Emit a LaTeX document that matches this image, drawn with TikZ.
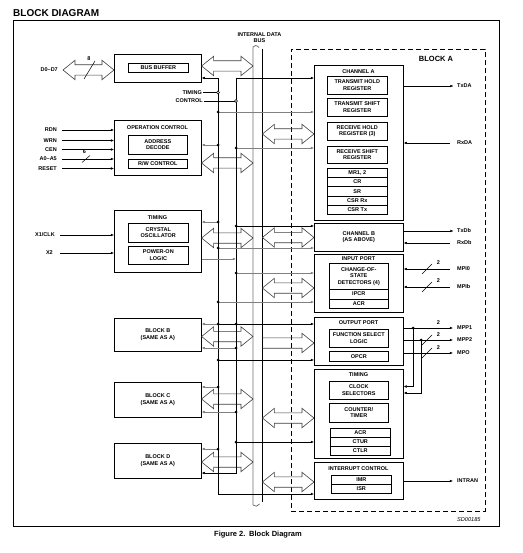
\documentclass[tikz,border=0pt]{standalone}
\usepackage{fontspec}
\setmainfont{Liberation Sans}
\usetikzlibrary{calc,arrows.meta}

\newcommand\fs{\fontsize{5.5}{6.4}\selectfont\bfseries}

\tikzset{
  lbl/.style={font=\fs, inner sep=0pt, align=center},
  box/.style={draw, line width=0.6pt, inner sep=0pt, anchor=north west},
  ibox/.style={box, font=\fs, align=center},
  conn/.style={line width=0.5pt},
  gconn/.style={line width=0.5pt, draw=black!50},
  tip/.style={-{Latex[length=3.2pt,width=2.6pt]}},
  tipboth/.style={{Latex[length=3.2pt,width=2.6pt]}-{Latex[length=3.2pt,width=2.6pt]}},
  hollow/.style={draw=black!75, line width=0.6pt, line join=miter},
}

% hollow double arrow: start, end, y (image px)
\newcommand\dblarrow[3]{%
  \draw[hollow] let \p1=#1, \p2=#2, \p3=(0,#3) in
  (\x1,\y3) -- (\x1+12pt,\y3+9.7pt) -- (\x1+12pt,\y3+5.2pt) -- (\x2-12pt,\y3+5.2pt)
  -- (\x2-12pt,\y3+9.7pt) -- (\x2,\y3) -- (\x2-12pt,\y3-9.7pt) -- (\x2-12pt,\y3-5.2pt)
  -- (\x1+12pt,\y3-5.2pt) -- (\x1+12pt,\y3-9.7pt) -- cycle;}
% hollow single arrow
\newcommand\sglarrow[3]{%
  \draw[hollow] let \p1=#1, \p2=#2, \p3=(0,#3) in
  (\x1,\y3+5.2pt) -- (\x2-12pt,\y3+5.2pt) -- (\x2-12pt,\y3+9.7pt) -- (\x2,\y3)
  -- (\x2-12pt,\y3-9.7pt) -- (\x2-12pt,\y3-5.2pt) -- (\x1,\y3-5.2pt);}

\begin{document}
\begin{tikzpicture}[x=1pt,y=-1pt]
\useasboundingbox (0,0) rectangle (522,553);
\fill[white] (0,0) rectangle (522,553);

% title, frame, caption
\node[anchor=base west, inner sep=0, font=\fontsize{10}{12}\selectfont\bfseries] (title) at (13,17) {BLOCK DIAGRAM};
\draw[line width=0.9pt] (13,20) rectangle (499,526);
\node[inner sep=0, font=\fontsize{7.5}{9}\selectfont\bfseries] (caption) at (258,535) {Figure 2.\enspace Block Diagram};
\node[inner sep=0, anchor=west, font=\fontsize{5.6}{6}\selectfont\itshape] (sd) at (457,520) {SD00185};

% internal data bus
\node[lbl] (busL) at (259.5,37.5) {INTERNAL DATA\\BUS};
\node[inner sep=0, minimum width=9pt, minimum height=458pt, anchor=north west] (bus) at (253,47) {};
\draw[black!55, line width=0.8pt] (253,505) -- (253,47) .. controls (254,45) and (257,45) .. (259,47.5);
\draw[line width=0.8pt] (262,49.5) -- (262,502);
\draw[black!55, line width=0.8pt] (253,505) .. controls (255,507) and (258,506.5) .. (259.5,504);

% ---------- left column ----------
\node[box, minimum width=87pt, minimum height=28pt] (busbuf) at (114,54) {};
\node[ibox, minimum width=60pt, minimum height=9pt] (bb) at (128,63) {BUS BUFFER};

\node[box, minimum width=87pt, minimum height=55pt] (opc) at (114,120) {};
\node[lbl] (opct) at (157.5,128) {OPERATION CONTROL};
\node[ibox, minimum width=59pt, minimum height=19pt] (addr) at (128,135) {ADDRESS\\DECODE};
\node[ibox, minimum width=59pt, minimum height=9pt] (rw) at (128,159) {R/W CONTROL};

\node[box, minimum width=87pt, minimum height=62pt] (tim) at (114,210) {};
\node[lbl] (timt) at (157.5,218) {TIMING};
\node[ibox, minimum width=60pt, minimum height=19pt] (xtal) at (128,223) {CRYSTAL\\OSCILLATOR};
\node[ibox, minimum width=60pt, minimum height=18pt] (pwr) at (128,246) {POWER-ON\\LOGIC};

\node[ibox, minimum width=87pt, minimum height=33pt] (blkB) at (114,318) {BLOCK B\\(SAME AS A)};
\node[ibox, minimum width=87pt, minimum height=35pt] (blkC) at (114,382) {BLOCK C\\(SAME AS A)};
\node[ibox, minimum width=87pt, minimum height=35pt] (blkD) at (114,443) {BLOCK D\\(SAME AS A)};

% ---------- block A ----------
\node[box, dash pattern=on 5pt off 3pt, minimum width=194pt, minimum height=462pt] (blkA) at (291,49) {};
\node[inner sep=0, font=\fontsize{7.5}{9}\selectfont\bfseries] (blkAt) at (436,59) {BLOCK A};

\node[box, minimum width=89pt, minimum height=155pt] (chA) at (314,65) {};
\node[lbl] (chAt) at (358.5,72) {CHANNEL A};
\node[ibox, minimum width=60pt, minimum height=18pt] (thr) at (327,76) {TRANSMIT HOLD\\REGISTER};
\node[ibox, minimum width=60pt, minimum height=18pt] (tsr) at (327,98) {TRANSMIT SHIFT\\REGISTER};
\node[ibox, minimum width=60pt, minimum height=18pt] (rhr) at (327,122) {RECEIVE HOLD\\REGISTER (3)};
\node[ibox, minimum width=60pt, minimum height=17pt] (rsr) at (327,146) {RECEIVE SHIFT\\REGISTER};
\node[ibox, minimum width=60pt, minimum height=9.2pt] (mr) at (327,168) {MR1, 2};
\node[ibox, minimum width=60pt, minimum height=9.2pt] (cr) at (327,177.2) {CR};
\node[ibox, minimum width=60pt, minimum height=9.2pt] (sr) at (327,186.4) {SR};
\node[ibox, minimum width=60pt, minimum height=9.2pt] (csrrx) at (327,195.6) {CSR Rx};
\node[ibox, minimum width=60pt, minimum height=9.2pt] (csrtx) at (327,204.8) {CSR Tx};

\node[ibox, minimum width=89pt, minimum height=28pt] (chB) at (314,223) {CHANNEL B\\(AS ABOVE)};

\node[box, minimum width=89pt, minimum height=58pt] (inp) at (314,254) {};
\node[lbl] (inpt) at (358.5,259) {INPUT PORT};
\node[ibox, minimum width=59pt, minimum height=26pt] (cos) at (329,263) {CHANGE-OF-\\STATE\\DETECTORS (4)};
\node[ibox, minimum width=59pt, minimum height=9.5pt] (ipcr) at (329,289) {IPCR};
\node[ibox, minimum width=59pt, minimum height=9.5pt] (acr1) at (329,298.5) {ACR};

\node[box, minimum width=89pt, minimum height=48pt] (outp) at (314,317) {};
\node[lbl] (outpt) at (358.5,323) {OUTPUT PORT};
\node[ibox, minimum width=59pt, minimum height=18pt] (fsl) at (329,329) {FUNCTION SELECT\\LOGIC};
\node[ibox, minimum width=59pt, minimum height=10pt] (opcr) at (329,351) {OPCR};

\node[box, minimum width=89pt, minimum height=89pt] (timA) at (314,369) {};
\node[lbl] (timAt) at (358.5,375) {TIMING};
\node[ibox, minimum width=59pt, minimum height=18pt] (csel) at (329,381) {CLOCK\\SELECTORS};
\node[ibox, minimum width=59pt, minimum height=19pt] (ctim) at (329,403) {COUNTER/\\TIMER};
\node[ibox, minimum width=60pt, minimum height=9pt] (acr2) at (330,428) {ACR};
\node[ibox, minimum width=60pt, minimum height=9pt] (ctur) at (330,437) {CTUR};
\node[ibox, minimum width=60pt, minimum height=9pt] (ctlr) at (330,446) {CTLR};

\node[box, minimum width=89pt, minimum height=37pt] (intr) at (314,462) {};
\node[lbl] (intrt) at (358.5,469) {INTERRUPT CONTROL};
\node[ibox, minimum width=60pt, minimum height=9pt] (imr) at (331,475) {IMR};
\node[ibox, minimum width=60pt, minimum height=9pt] (isr) at (331,484) {ISR};

% ---------- hollow bus arrows ----------
\node[lbl, anchor=east] (d07) at (58,70) {D0--D7};
\coordinate (d07e) at (63,70);
\dblarrow{(d07e)}{(busbuf.west)}{70}
\draw[conn] (84,79) -- (95,61);
\node[lbl] (n8) at (89,59) {8};

\dblarrow{(busbuf.east)}{(bus.west)}{66}
\dblarrow{(opc.east)}{(bus.west)}{163}
\dblarrow{(tim.east)}{(bus.west)}{238}
\dblarrow{(blkB.east)}{(bus.west)}{336.5}
\dblarrow{(blkC.east)}{(bus.west)}{399}
\dblarrow{(blkD.east)}{(bus.west)}{462}

\dblarrow{(bus.east)}{(chA.west)}{134}
\dblarrow{(bus.east)}{(chB.west)}{237.5}
\dblarrow{(bus.east)}{(inp.west)}{288}
\sglarrow{(bus.east)}{(outp.west)}{343}
\dblarrow{(bus.east)}{(timA.west)}{418}
\dblarrow{(bus.east)}{(intr.west)}{482}

% ---------- timing (T) and control (C) lines ----------
\coordinate (Ttop) at (218,78);  \coordinate (Tbot) at (218,494);
\coordinate (Ctop) at (236,78);  \coordinate (Cbot) at (236,473);
\foreach \y in {112,145,222,248,302,324,360,387,449} \coordinate (T\y) at (218,\y);
\foreach \y in {148,226,273,324,348,412,442} \coordinate (C\y) at (236,\y);

\draw[conn, tipboth] (Ttop -| busbuf.east) -- (Ttop) -- (Tbot) -- (Tbot -| intr.west);
\draw[conn, tipboth] (Ctop -| chA.west) -- (Ctop) -- (Cbot) -- (Cbot -| blkD.east);

\draw[gconn,tip] (T112) -- (T112 -| chA.west);
\draw[gconn,tip] (T145) -- (T145 -| opc.east);
\draw[gconn,tip] (T222) -- (T222 -| tim.east);
\draw[gconn,tip] (T248) -- (T248 -| chB.west);
\draw[gconn,tip] (T302) -- (T302 -| inp.west);
\draw[gconn,tip] (T324) -- (T324 -| blkB.east);
\draw[conn] (T324) -- (C324);
\draw[conn,tip] (T360) -- (T360 -| outp.west);
\draw[gconn,tip] (T387) -- (T387 -| blkC.east);
\draw[gconn,tip] (T449) -- (T449 -| blkD.east);

\draw[gconn,tip] (C148) -- (C148 -| chA.west);
\draw[conn,tip] (C226) -- (C226 -| chB.west);
\draw[gconn,tip] (C273) -- (C273 -| inp.west);
\draw[conn,tip] (C324) -- (C324 -| outp.west);
\draw[gconn,tip] (C348) -- (C348 -| blkB.east);
\draw[gconn,tip] (C412) -- (C412 -| blkC.east);
\draw[conn,tip] (C442) -- (C442 -| timA.west);

\coordinate (C259) at (236,259);
\draw[gconn,tip] (C259 -| tim.east) -- (C259);

\foreach \y in {112,145,222,248,302,324,360,387,449} \fill (T\y) circle (1.5pt);
\foreach \y in {148,226,273,324,348,412,442} \fill (C\y) circle (1.5pt);

% timing / control inputs
\node[lbl, anchor=east] (timL) at (202,92.5) {TIMING};
\node[lbl, anchor=east] (ctlL) at (203,101) {CONTROL};
\coordinate (T92) at (218,92.5);
\coordinate (C101) at (236,101);
\draw[conn, shorten <=1pt] (timL.east) -- (T92);
\draw[conn, shorten <=1pt] (ctlL.east) -- (C101);
\draw[conn, fill=white] (T92) circle (1.5pt);
\draw[conn, fill=white] (C101) circle (1.5pt);

% ---------- left inputs ----------
\node[lbl, anchor=east] (rdn) at (57,130) {RDN};
\node[lbl, anchor=east] (wrn) at (57,140.5) {WRN};
\node[lbl, anchor=east] (cen) at (57,149.5) {CEN};
\node[lbl, anchor=east] (a05) at (57,159) {A0--A5};
\node[lbl, anchor=east] (rst) at (57,168.5) {RESET};
\foreach \n in {rdn,wrn,cen,a05,rst}
  \draw[conn,tip] ([xshift=5pt]\n.east) -- (\n -| opc.west);
\draw[conn] (82,162.5) -- (90,155.5);
\node[lbl] (n6) at (84.5,152) {6};

\node[lbl, anchor=east] (x1) at (55,235) {X1/CLK};
\node[lbl, anchor=east] (x2) at (53,253) {X2};
\draw[conn,tip] ([xshift=5pt]x1.east) -- (x1 -| tim.west);
\draw[conn,tip] ([xshift=7pt]x2.east) -- (x2 -| tim.west);

% ---------- right side signals ----------
\node[lbl, anchor=west] (txda) at (457,86) {TxDA};
\node[lbl, anchor=west] (rxda) at (457,143) {RxDA};
\node[lbl, anchor=west] (txdb) at (457,231) {TxDb};
\node[lbl, anchor=west] (rxdb) at (457,243) {RxDb};
\node[lbl, anchor=west] (mpi0) at (457,269) {MPI0};
\node[lbl, anchor=west] (mpib) at (457,287) {MPIb};
\node[lbl, anchor=west] (mpp1) at (457,328) {MPP1};
\node[lbl, anchor=west] (mpp2) at (457,340) {MPP2};
\node[lbl, anchor=west] (mpo) at (457,353) {MPO};
\node[lbl, anchor=west] (intran) at (457,481) {INTRAN};

\draw[conn,tip] (txda -| chA.east) -- ([xshift=-3.5pt]txda.west);
\draw[conn,tip] ([xshift=-7pt]rxda.west) -- (rxda -| chA.east);
\draw[conn,tip] (txdb -| chB.east) -- ([xshift=-3.5pt]txdb.west);
\draw[conn,tip] ([xshift=-7pt]rxdb.west) -- (rxdb -| chB.east);
\draw[conn,tip] ([xshift=-7pt]mpi0.west) -- (mpi0 -| inp.east);
\draw[conn,tip] ([xshift=-7pt]mpib.west) -- (mpib -| inp.east);
\draw[conn,tip] (mpp1 -| outp.east) -- ([xshift=-4pt]mpp1.west);
\draw[conn,tip] (mpp2 -| outp.east) -- ([xshift=-4pt]mpp2.west);
\draw[conn,tip] (mpo -| outp.east) -- ([xshift=-4pt]mpo.west);
\draw[conn,tip] (intran -| intr.east) -- ([xshift=-4pt]intran.west);

\foreach \y in {269,287,340,353} \draw[conn] (422,\y+5) -- (432,\y-5);
\foreach \y/\nm in {263/a,281/b,322.5/c,334.5/d,347.5/e} \node[lbl] (two\nm) at (438.5,\y) {2};

\coordinate (d1) at (413,328);
\coordinate (d2) at (421,340);
\coordinate (k1) at (0,386.5);
\coordinate (k2) at (0,393);
\draw[conn,tip] (d1) |- (k1 -| timA.east);
\draw[conn,tip] (d2) |- (k2 -| timA.east);
\fill (d1) circle (1.5pt);
\fill (d2) circle (1.5pt);

\end{tikzpicture}
\end{document}
